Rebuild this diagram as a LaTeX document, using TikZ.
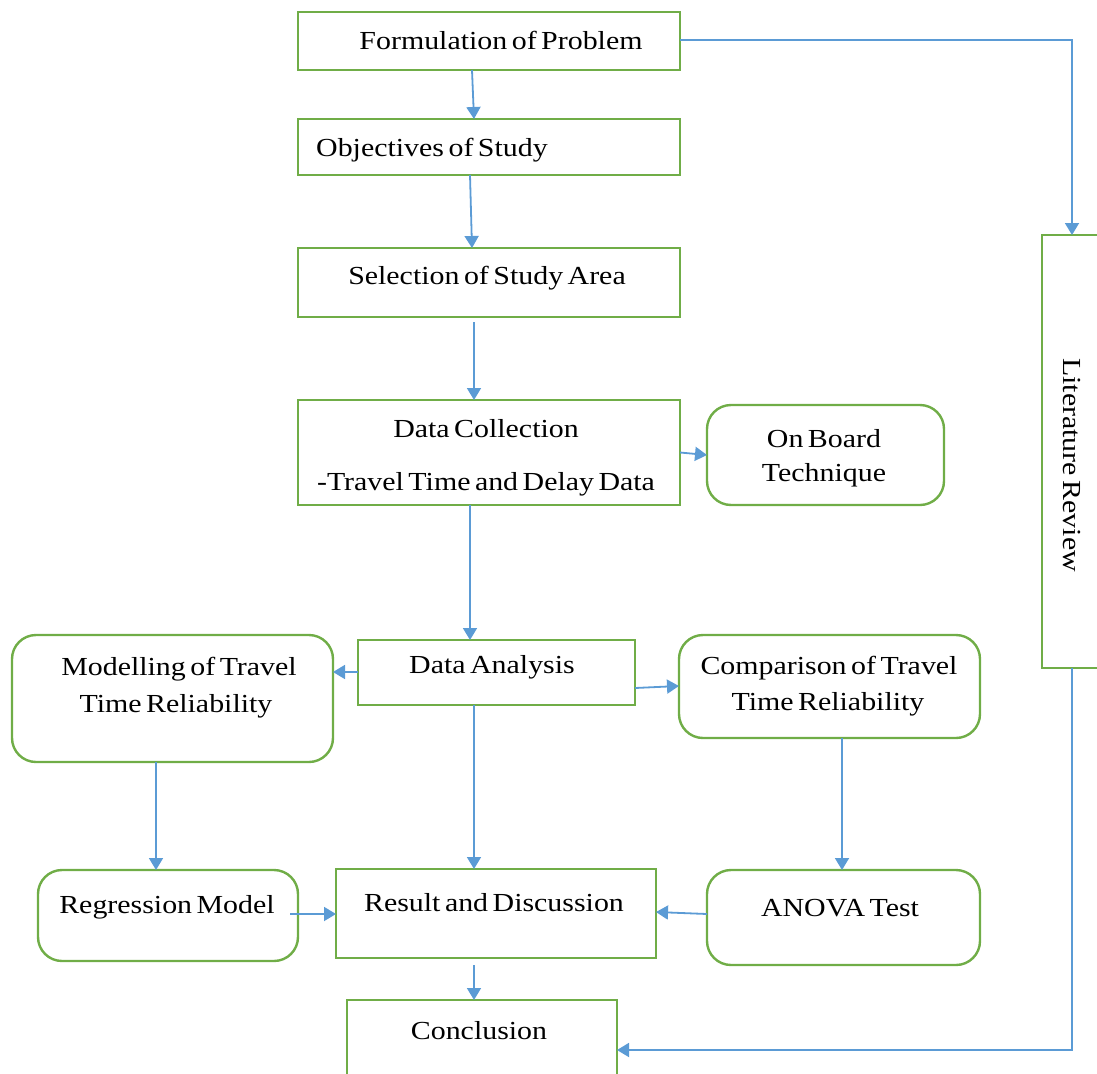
\documentclass[tikz,border=0pt]{standalone}
\usepackage{fontspec}
\setmainfont[FakeStretch=1.15,WordSpace=0.6]{Liberation Serif}
\usetikzlibrary{arrows.meta,calc}
\definecolor{bgreen}{HTML}{70AD47}
\definecolor{ablue}{HTML}{5B9BD5}
\begin{document}
\begin{tikzpicture}[x=1pt,y=-1pt,
  box/.style={draw=bgreen,line width=2.4pt,inner sep=0pt,outer sep=0pt},
  rbox/.style={box,rounded corners=24pt},
  txt/.style={font=\fontsize{26}{30}\selectfont,inner sep=0pt,anchor=base},
  arr/.style={draw=ablue,line width=1.8pt,-{Triangle[width=14pt,length=12pt]}}]
\useasboundingbox (0,0) rectangle (1097,1073);
% boxes
\node[box,minimum width=382pt,minimum height=58pt] (form) at (489,41) {};
\node[box,minimum width=382pt,minimum height=56pt] (obj) at (489,147) {};
\node[box,minimum width=382pt,minimum height=69pt] (sel) at (489,282.5) {};
\node[box,minimum width=382pt,minimum height=105pt] (dc) at (489,452.5) {};
\node[rbox,minimum width=237pt,minimum height=100pt] (ob) at (825.5,455) {};
\node[box,minimum width=80pt,minimum height=433pt] (lit) at (1082,451.5) {};
\node[box,minimum width=277pt,minimum height=65pt] (da) at (496.5,672.5) {};
\node[rbox,minimum width=321pt,minimum height=127pt] (mod) at (172.5,698.5) {};
\node[rbox,minimum width=301pt,minimum height=103pt] (cmp) at (829.5,686.5) {};
\node[rbox,minimum width=260pt,minimum height=91pt] (reg) at (168,915.5) {};
\node[box,minimum width=320pt,minimum height=89pt] (res) at (496,913.5) {};
\node[rbox,minimum width=273pt,minimum height=95pt] (an) at (843.5,917.5) {};
\node[box,minimum width=270pt,minimum height=85pt] (con) at (482,1042.5) {};
% texts
\node[txt] (tform) at (501,50) {Formulation of Problem};
\node[txt,anchor=base west] (tobj) at (316,156) {Objectives of Study};
\node[txt] (tsel) at (487,284) {Selection of Study Area};
\node[txt] (tdc1) at (486,437) {Data Collection};
\node[txt] (tdc2) at (486,490) {-Travel Time and Delay Data};
\node[txt] (tob1) at (824,447) {On Board};
\node[txt] (tob2) at (824,481) {Technique};
\node[txt,rotate=-90,anchor=center] (tlit) at (1072,465) {Literature Review};
\node[txt] (tda) at (492,673) {Data Analysis};
\node[txt] (tmod1) at (179,675) {Modelling of Travel};
\node[txt] (tmod2) at (176,712) {Time Reliability};
\node[txt] (tcmp1) at (829,674) {Comparison of Travel};
\node[txt] (tcmp2) at (828,710) {Time Reliability};
\node[txt] (treg) at (167,913) {Regression Model};
\node[txt] (tres) at (494,911) {Result and Discussion};
\node[txt] (tan) at (840,916) {ANOVA Test};
\node[txt] (tcon) at (479,1039) {Conclusion};
% connectors
\coordinate (c1) at (1072,40);
\coordinate (c2) at (1072,1050);
\draw[arr] ($(form.south)+(-17,0)$) -- ($(obj.north)+(-15,0)$);
\draw[arr] ($(obj.south)+(-19,0)$) -- ($(sel.north)+(-17,0)$);
\draw[arr] ($(sel.south)+(-15,5)$) -- ($(dc.north)+(-15,0)$);
\draw[arr] (form.east |- c1) -- (c1) -- (c1 |- lit.north);
\draw[arr] ($(dc.east)+(0,0)$) -- (ob.west |- 0,455);
\draw[arr] ($(dc.south)+(-19,0)$) -- ($(da.north)+(-26.5,0)$);
\draw[arr] (da.west |- 0,672) -- (mod.east |- 0,672);
\draw[arr] (da.east |- 0,688) -- (cmp.west |- 0,686);
\draw[arr] ($(mod.south)+(-16.5,0)$) -- ($(reg.north)+(-12,0)$);
\draw[arr] ($(da.south)+(-22.5,0)$) -- ($(res.north)+(-22,0)$);
\draw[arr] ($(cmp.south)+(12.5,0)$) -- ($(an.north)+(-1.5,0)$);
\draw[arr] (290,914) -- (res.west |- 0,914);
\draw[arr] (an.west |- 0,914) -- (res.east |- 0,912);
\draw[arr] ($(res.south)+(-22,7)$) -- ($(con.north)+(-8,0)$);
\draw[arr] (c1 |- lit.south) -- (c2) -- (con.east |- c2);
\end{tikzpicture}
\end{document}
